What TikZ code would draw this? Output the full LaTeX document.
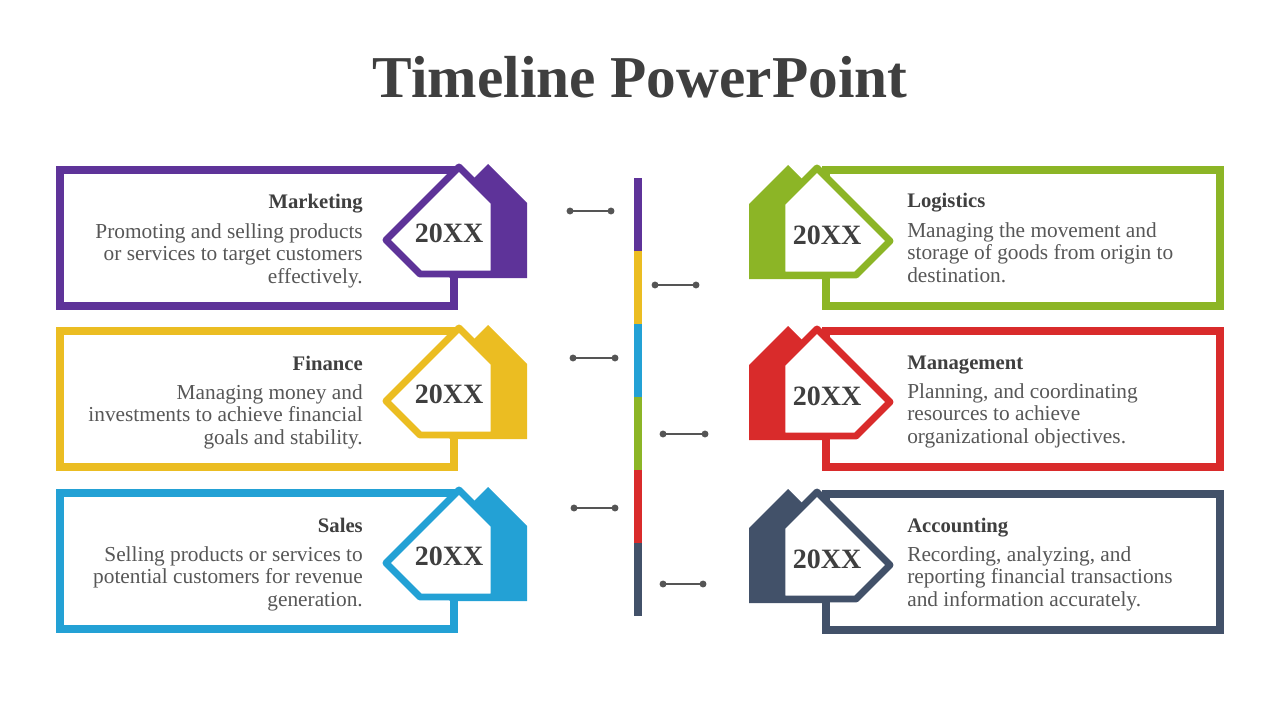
\documentclass[tikz,border=0pt]{standalone}
\usepackage{fontspec}
\setmainfont{Liberation Serif}
\usetikzlibrary{positioning}

\definecolor{txtgray}{HTML}{3F3F3F}
\definecolor{bodygray}{HTML}{575757}
\definecolor{dotgray}{HTML}{555555}
\definecolor{mktpurple}{HTML}{5E3399}
\definecolor{finyellow}{HTML}{EBBD22}
\definecolor{salblue}{HTML}{23A1D5}
\definecolor{loggreen}{HTML}{8CB526}
\definecolor{mgtred}{HTML}{D92B2B}
\definecolor{accnavy}{HTML}{425169}

\tikzset{
  cardframe/.style={line width=6pt, fill=white},
  yearbox/.style={line width=5.2pt, fill=white, line join=round},
  yeartext/.style={font=\bfseries\fontsize{21}{24}\selectfont, text=txtgray, inner sep=0pt},
  cardtitle/.style={font=\bfseries\fontsize{15.5}{18}\selectfont, text=txtgray, inner sep=0pt},
  cardbody/.style={font=\fontsize{16}{17}\selectfont, text=bodygray, inner sep=0pt},
  dumbbell/.style={dotgray, line width=2pt},
}

% year tag: shadow block + white pentagon, drawn round its centre
\newcommand{\yeartag}[1]{%
  \fill[#1] (29,-76) -- (68,-37) -- (68,38) -- (-9,38) -- (-47,0) -- cycle;
  \draw[yearbox, draw=#1] (0,-73) -- (35,-38) -- (35,34) -- (-39,34) -- (-73,0) -- cycle;
}

\begin{document}
\begin{tikzpicture}[x=0.75pt,y=-0.75pt]
  \useasboundingbox (0,0) rectangle (1280,720);

  \node[font=\bfseries\fontsize{44.5}{50}\selectfont, text=txtgray] (title) at (640,77) {Timeline PowerPoint};

  % central bar
  \foreach \col [count=\i from 0] in {mktpurple,finyellow,salblue,loggreen,mgtred,accnavy}
    \fill[\col] (634,178+73*\i) rectangle (642,251+73*\i);

  % connectors
  \foreach \xa/\xb/\y [count=\i] in {570/611/211, 655/696/285, 573/615/358, 663/705/434, 574/615/508, 663/703/584} {
    \coordinate (c\i-a) at (\xa,\y);
    \coordinate (c\i-b) at (\xb,\y);
    \draw[dumbbell] (c\i-a) -- (c\i-b);
    \fill[dotgray] (c\i-a) circle[radius=2.6pt] (c\i-b) circle[radius=2.6pt];
  }

  % left cards
  \foreach \t/\col/\ttl/\body [count=\i] in {
      166/mktpurple/Marketing/{Promoting and selling products\\or services to target customers\\effectively.},
      327/finyellow/Finance/{Managing money and\\investments to achieve financial\\goals and stability.},
      489/salblue/Sales/{Selling products or services to\\potential customers for revenue\\generation.}} {
    \draw[cardframe, draw=\col] (60,\t+4) rectangle (454,\t+140);
    \begin{scope}[shift={(459,\t+74)}]
      \yeartag{\col}
      \node[yeartext] (yearL\i) at (-10,-7) {20XX};
    \end{scope}
    \node[cardtitle, anchor=base east] (titleL\i) at (363,\t+43) {\ttl};
    \node[cardbody, anchor=north east, align=right] (bodyL\i) at (363,\t+57) {\body};
  }

  % right cards
  \foreach \t/\col/\ttl/\body [count=\i] in {
      166/loggreen/Logistics/{Managing the movement and\\storage of goods from origin to\\destination.},
      327/mgtred/Management/{Planning, and coordinating\\resources to achieve\\organizational objectives.},
      490/accnavy/Accounting/{Recording, analyzing, and\\reporting financial transactions\\and information accurately.}} {
    \draw[cardframe, draw=\col] (826,\t+4) rectangle (1220,\t+140);
    \begin{scope}[shift={(817,\t+75)}, xscale=-1]
      \yeartag{\col}
      \node[yeartext] (yearR\i) at (-10,-6) {20XX};
    \end{scope}
    \node[cardtitle, anchor=base west] (titleR\i) at (907,\t+42) {\ttl};
    \node[cardbody, anchor=north west, align=left] (bodyR\i) at (907,\t+56) {\body};
  }
\end{tikzpicture}
\end{document}
